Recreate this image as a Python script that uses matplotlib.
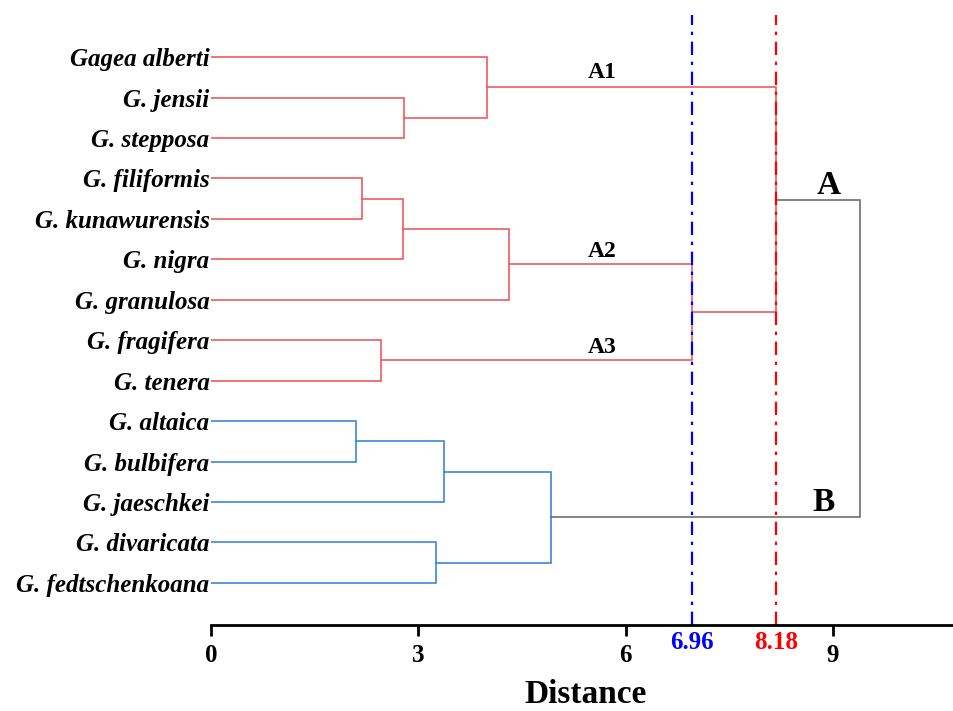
import matplotlib
matplotlib.use("Agg")
import matplotlib.pyplot as plt

# ---------------- data ----------------
leaves = ["Gagea alberti", "G. jensii", "G. stepposa", "G. filiformis",
          "G. kunawurensis", "G. nigra", "G. granulosa", "G. fragifera",
          "G. tenera", "G. altaica", "G. bulbifera", "G. jaeschkei",
          "G. divaricata", "G. fedtschenkoana"]
# merges: (left child, right child, height); leaves are 0..13, merge k creates node 14+k
merge_left = [1, 3, 15, 16, 7, 0, 17, 9, 21, 12, 22, 19, 25]
merge_right = [2, 4, 5, 6, 8, 14, 18, 10, 11, 13, 23, 20, 24]
merge_height = [2.79, 2.19, 2.78, 4.31, 2.46, 3.99, 6.96, 2.10, 3.37, 3.26, 4.92, 8.18, 9.40]
merge_color = ["red"] * 7 + ["blue"] * 4 + ["red", "gray"]
cut_values = [6.96, 8.18]
cut_labels = ["6.96", "8.18"]
cluster_labels = ["A1", "A2", "A3", "A", "B"]
xticks = [0, 3, 6, 9]

colors = {"red": "#F05A5E", "blue": "#3D85DE", "gray": "#6E6E6E"}

fig = plt.figure(figsize=(9.54, 7.11), dpi=100)
ax = fig.add_axes([211 / 954, 86 / 711, (953 - 211) / 954, (625 - 15) / 711])

ypos = {i: float(i) for i in range(len(leaves))}
xpos = {i: 0.0 for i in range(len(leaves))}
n = len(leaves)
for k, (l, r, h) in enumerate(zip(merge_left, merge_right, merge_height)):
    c = colors[merge_color[k]]
    yl, yr = ypos[l], ypos[r]
    xl, xr = xpos[l], xpos[r]
    ax.plot([xl, h, h, xr], [yl, yl, yr, yr], color=c, lw=1.2, solid_joinstyle="miter")
    ypos[n + k] = (yl + yr) / 2
    xpos[n + k] = h

ax.axvline(cut_values[0], color="#0000FF", lw=1.6, ls=(0, (6, 3, 1.5, 3)))
ax.axvline(cut_values[1], color="#FF0000", lw=1.6, ls=(0, (6, 3, 1.5, 3)))

ax.set_xlim(0, 10.74)
ax.set_ylim(14.04, -1.04)

serif = "Liberation Serif"
ax.set_yticks(range(n))
ax.set_yticklabels(leaves, fontfamily=serif, fontstyle="italic", fontweight="bold", fontsize=18)
ax.tick_params(axis="y", length=0, pad=1)

ax.set_xticks(xticks)
ax.set_xticklabels([str(t) for t in xticks], fontfamily=serif, fontweight="bold", fontsize=18)
ax.tick_params(axis="x", length=8, width=2, pad=6, direction="out")

for s in ["top", "right", "left"]:
    ax.spines[s].set_visible(False)
ax.spines["bottom"].set_linewidth(2)

fig.text(586 / 954, 8 / 711, "Distance", ha="center", va="baseline",
         fontfamily=serif, fontweight="bold", fontsize=24)

# cut value labels
for v, lab, col in zip(cut_values, cut_labels, ["#0000FF", "#FF0000"]):
    ax.text(v, 14.48, lab, color=col, ha="center", va="center",
            fontfamily=serif, fontweight="bold", fontsize=18, clip_on=False)

# cluster labels
lab_x = [5.66, 5.66, 5.66, 8.94, 8.86]
lab_y = [0.52, 4.94, 7.32, 3.39, 11.22]
lab_size = [17, 17, 17, 24, 24]
for t, x, y, s in zip(cluster_labels, lab_x, lab_y, lab_size):
    ax.text(x, y, t, ha="center", va="baseline", fontfamily=serif, fontweight="bold", fontsize=s)

fig.savefig("out.png", dpi=100)
